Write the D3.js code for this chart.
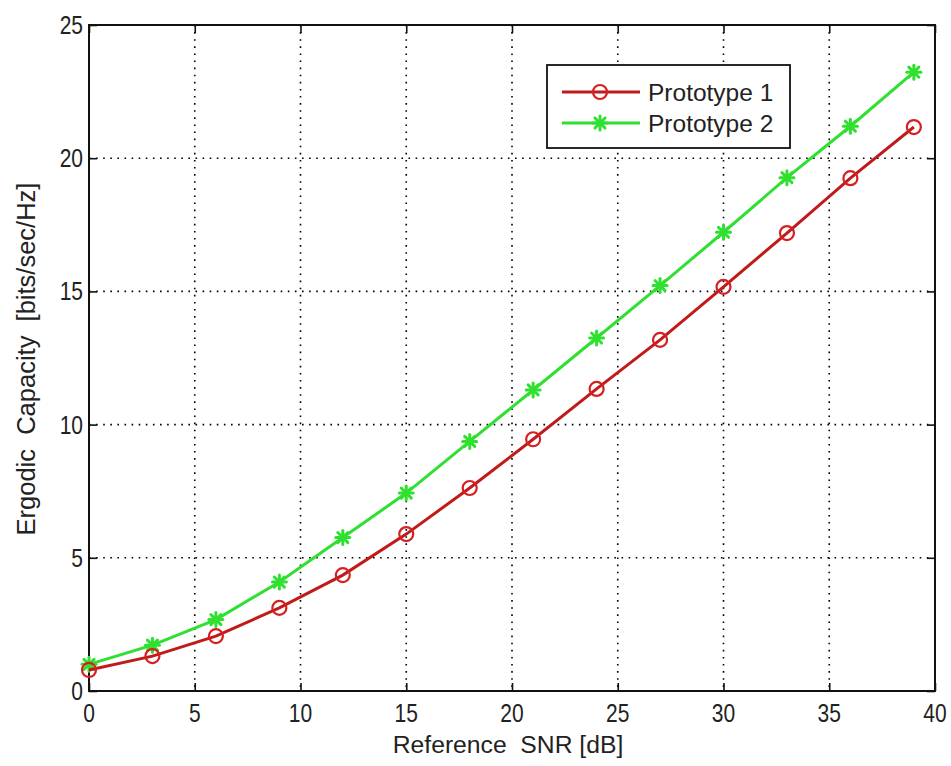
<!DOCTYPE html>
<html>
<head>
<meta charset="utf-8">
<script src="https://cdn.jsdelivr.net/npm/d3@7"></script>
<style>
  html, body { margin: 0; padding: 0; background: #fff; }
  svg { display: block; }
  text { font-family: "Liberation Sans", Arial, sans-serif; fill: #222; }
</style>
</head>
<body>
<svg id="chart" width="951" height="766"></svg>
<script>
const snr = [0, 3, 6, 9, 12, 15, 18, 21, 24, 27, 30, 33, 36, 39];
const proto1 = [0.79, 1.31, 2.06, 3.12, 4.35, 5.89, 7.62, 9.45, 11.34, 13.18, 15.17, 17.19, 19.25, 21.17];
const proto2 = [1.0, 1.72, 2.68, 4.09, 5.76, 7.43, 9.37, 11.3, 13.25, 15.22, 17.22, 19.27, 21.2, 23.23];
const xTicks = [0, 5, 10, 15, 20, 25, 30, 35, 40];
const yTicks = [0, 5, 10, 15, 20, 25];
const seriesNames = ["Prototype 1", "Prototype 2"];
const xLabel = "Reference  SNR [dB]";
const yLabel = "Ergodic  Capacity  [bits/sec/Hz]";

const svg = d3.select("#chart");
const L = 89, R = 935, T = 25, B = 691;
const x = d3.scaleLinear().domain([0, 40]).range([L, R]);
const y = d3.scaleLinear().domain([0, 25]).range([B, T]);

const redLine = "#c01a1a", redMarker = "#d42020", green = "#30e030";

// grid
const grid = svg.append("g");
grid.selectAll("line.gx").data(xTicks.slice(1, -1)).join("line")
  .attr("x1", d => x(d)).attr("x2", d => x(d)).attr("y1", T).attr("y2", B)
  .attr("stroke", "#000").attr("stroke-width", 1.6).attr("stroke-dasharray", "1.6,5.5");
grid.selectAll("line.gy").data(yTicks.slice(1, -1)).join("line")
  .attr("x1", L).attr("x2", R).attr("y1", d => y(d)).attr("y2", d => y(d))
  .attr("stroke", "#000").attr("stroke-width", 1.6).attr("stroke-dasharray", "1.6,5.5");

// axes with inward ticks (labels drawn separately)
const axB = svg.append("g").attr("transform", `translate(0,${B})`)
  .call(d3.axisBottom(x).tickValues(xTicks).tickSize(-8).tickFormat(""));
const axT = svg.append("g").attr("transform", `translate(0,${T})`)
  .call(d3.axisTop(x).tickValues(xTicks).tickSize(-8).tickFormat(""));
const axL = svg.append("g").attr("transform", `translate(${L},0)`)
  .call(d3.axisLeft(y).tickValues(yTicks).tickSize(-8).tickFormat(""));
const axR = svg.append("g").attr("transform", `translate(${R},0)`)
  .call(d3.axisRight(y).tickValues(yTicks).tickSize(-8).tickFormat(""));
[axB, axT, axL, axR].forEach(a => {
  a.select(".domain").remove();
  a.selectAll(".tick line").attr("stroke", "#111").attr("stroke-width", 1.6);
});

// tick labels (slightly tall, like the reference rendering)
const fmt = d3.format("d");
svg.append("g").selectAll("text").data(xTicks).join("text")
  .attr("transform", d => `translate(${x(d)},721.5) scale(1,1.22)`)
  .attr("text-anchor", "middle").attr("font-size", 21).text(fmt);
svg.append("g").selectAll("text").data(yTicks).join("text")
  .attr("transform", d => `translate(83,${y(d) + 9}) scale(1,1.22)`)
  .attr("text-anchor", "end").attr("font-size", 21).text(fmt);

// box
svg.append("rect").attr("x", L).attr("y", T).attr("width", R - L).attr("height", B - T)
  .attr("fill", "none").attr("stroke", "#111").attr("stroke-width", 2);

// labels
svg.append("text").attr("x", 508).attr("y", 753).attr("text-anchor", "middle")
  .attr("font-size", 24.7).attr("xml:space", "preserve").text(xLabel);
svg.append("text").attr("transform", `translate(35,359) rotate(-90)`)
  .attr("text-anchor", "middle").attr("font-size", 25.5).attr("xml:space", "preserve").text(yLabel);

const line = d3.line().x((d, i) => x(snr[i])).y(d => y(d));

function drawStar(g, cx, cy, r, color) {
  const s = g.append("g").attr("transform", `translate(${cx},${cy})`);
  const a = r * 0.72;
  [[-r, 0, r, 0], [0, -r, 0, r], [-a, -a, a, a], [-a, a, a, -a]].forEach(p => {
    s.append("line").attr("x1", p[0]).attr("y1", p[1]).attr("x2", p[2]).attr("y2", p[3])
      .attr("stroke", color).attr("stroke-width", 3).attr("stroke-linecap", "round");
  });
}

// series 2 (green) first, red on top
svg.append("path").datum(proto2).attr("d", line).attr("fill", "none")
  .attr("stroke", green).attr("stroke-width", 3);
const g2 = svg.append("g");
proto2.forEach((v, i) => drawStar(g2, x(snr[i]), y(v), 7, green));

svg.append("path").datum(proto1).attr("d", line).attr("fill", "none")
  .attr("stroke", redLine).attr("stroke-width", 3);
svg.append("g").selectAll("circle").data(proto1).join("circle")
  .attr("cx", (d, i) => x(snr[i])).attr("cy", d => y(d)).attr("r", 7)
  .attr("fill", "none").attr("stroke", redMarker).attr("stroke-width", 2.2);

// legend
const lg = svg.append("g");
lg.append("rect").attr("x", 547).attr("y", 65).attr("width", 243).attr("height", 83)
  .attr("fill", "#fff").attr("stroke", "#111").attr("stroke-width", 1.8);
const rows = [92, 123];
[[redLine, "circle"], [green, "star"]].forEach((s, i) => {
  const ry = rows[i];
  lg.append("line").attr("x1", 562).attr("x2", 640).attr("y1", ry).attr("y2", ry)
    .attr("stroke", s[0]).attr("stroke-width", 3);
  if (s[1] === "circle") {
    lg.append("circle").attr("cx", 600).attr("cy", ry).attr("r", 7)
      .attr("fill", "none").attr("stroke", redMarker).attr("stroke-width", 2.2);
  } else {
    drawStar(lg, 600, ry, 7, green);
  }
  lg.append("text").attr("x", 648).attr("y", ry).attr("dy", "0.35em")
    .attr("font-size", 24.5).text(seriesNames[i]);
});
</script>
</body>
</html>
